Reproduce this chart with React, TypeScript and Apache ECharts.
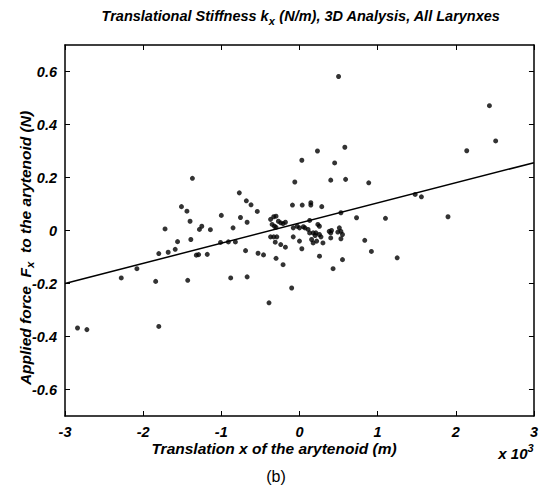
import React, { useEffect, useRef } from "react";
import * as echarts from "echarts";

const xData: number[] = [
  -2.84, -2.72, -2.28, -2.08, -1.84, -1.8, -1.8, -1.72, -1.68, -1.59,
  -1.56, -1.51, -1.44, -1.43, -1.37, -1.4, -1.39, -1.32, -1.29, -1.18,
  -1.28, -1.25, -1.14, -1.0, -1.01, -0.91, -0.82, -0.88, -0.85, -0.77,
  -0.68, -0.62, -0.54, -0.755, -0.67, -0.69, -0.67, -0.53, -0.46, -0.39,
  -0.3, -0.21, -0.1, -0.37, -0.33, -0.3, -0.27, -0.24, -0.21, -0.18,
  -0.35, -0.32, -0.3, -0.08, -0.03, 0.0, 0.05, 0.07, 0.11, 0.13,
  0.175, 0.2, -0.37, -0.33, -0.29, -0.31, -0.24, -0.18, -0.08, 0.0,
  0.03, 0.155, 0.175, 0.22, -0.09, 0.035, 0.145, 0.145, 0.285, 0.13,
  0.235, 0.255, 0.21, 0.255, 0.275, 0.3, 0.38, 0.41, 0.4, 0.51,
  0.53, 0.49, 0.55, 0.4, 0.53, 0.55, 0.43, 0.256, 0.835, 0.92,
  1.25, 0.73, 1.1, 1.9, 1.48, 1.56, 0.886, 0.4, 0.59, -0.06,
  0.03, 0.45, 0.23, 0.58, 0.5, 2.14, 2.43, 2.51, 0.53,
];

const yData: number[] = [
  -0.368, -0.374, -0.179, -0.144, -0.192, -0.362, -0.087, 0.006, -0.082, -0.071,
  -0.042, 0.09, 0.073, -0.188, 0.197, 0.035, -0.034, -0.093, -0.091, -0.09,
  0.004, 0.016, 0.003, 0.057, -0.045, -0.043, -0.043, -0.179, 0.01, 0.142,
  0.112, 0.097, 0.072, 0.049, 0.031, -0.076, -0.175, -0.086, -0.092, -0.273,
  -0.105, -0.129, -0.217, 0.042, 0.052, 0.054, 0.035, 0.029, 0.026, 0.031,
  0.023, 0.016, 0.012, 0.01, 0.016, 0.01, 0.014, 0.01, 0.004, -0.009,
  -0.009, -0.019, -0.024, -0.024, -0.024, -0.044, -0.053, -0.063, -0.024, -0.04,
  -0.069, -0.034, -0.047, -0.04, 0.096, 0.096, 0.105, 0.096, 0.09, 0.038,
  0.023, 0.016, -0.009, -0.015, -0.024, -0.047, -0.003, 0.0, -0.009, 0.01,
  -0.003, -0.006, -0.015, -0.028, -0.031, -0.11, -0.144, -0.097, -0.037, -0.079,
  -0.103, 0.048, 0.046, 0.052, 0.136, 0.127, 0.18, 0.19, 0.193, 0.183,
  0.265, 0.255, 0.3, 0.314, 0.581, 0.301, 0.471, 0.338, 0.067,
];

const fitX: number[] = [-3, 3];
const fitY: number[] = [-0.2, 0.256];

const xTickValues: number[] = [-3, -2, -1, 0, 1, 2, 3];
const yTickValues: number[] = [-0.6, -0.4, -0.2, 0, 0.2, 0.4, 0.6];

const titleText = "{a|Translational Stiffness k}{s|x}{a| (N/m), 3D Analysis, All Larynxes}";
const xLabelText = "Translation x of the arytenoid (m)";
const yLabelText = "{a|Applied force  F}{s|x}{a|  to the arytenoid (N)}";
const expText = "{a|x 10}{p|3}";
const panelText = "(b)";

const FONT = "'Liberation Sans', Arial, Helvetica, sans-serif";

export default function App() {
  const ref = useRef<HTMLDivElement>(null);
  useEffect(() => {
    if (!ref.current) return;
    const chart = echarts.init(ref.current, null, { renderer: "svg" });
    const points = xData.map((x, i) => [x, yData[i]]);
    const fit = fitX.map((x, i) => [x, fitY[i]]);
    const labelStyle = {
      color: "#000",
      fontFamily: FONT,
      fontWeight: "bold" as const,
      fontStyle: "italic" as const,
      fontSize: 14.5,
    };
    const lineStyle = { color: "#000", width: 1.5 };
    const tick = { show: true, inside: true, length: 5, lineStyle: { color: "#000" } };
    chart.setOption({
      animation: false,
      backgroundColor: "#fff",
      grid: { left: 65, top: 45, width: 473, height: 371, containLabel: false },
      xAxis: [
        {
          type: "value",
          position: "bottom",
          min: -3,
          max: 3,
          interval: 1,
          axisLine: { show: true, onZero: false, lineStyle },
          axisTick: tick,
          axisLabel: { ...labelStyle, margin: 8, customValues: xTickValues },
          splitLine: { show: false },
        },
        {
          type: "value",
          position: "top",
          min: -3,
          max: 3,
          interval: 1,
          axisLine: { show: true, onZero: false, lineStyle },
          axisTick: tick,
          axisLabel: { show: false },
          splitLine: { show: false },
        },
      ],
      yAxis: [
        {
          type: "value",
          position: "left",
          min: -0.7,
          max: 0.7,
          axisLine: { show: true, onZero: false, lineStyle },
          axisTick: { ...tick, customValues: yTickValues },
          axisLabel: { ...labelStyle, margin: 8, customValues: yTickValues },
          splitLine: { show: false },
        },
        {
          type: "value",
          position: "right",
          min: -0.7,
          max: 0.7,
          axisLine: { show: true, onZero: false, lineStyle },
          axisTick: { ...tick, customValues: yTickValues },
          axisLabel: { show: false },
          splitLine: { show: false },
        },
      ],
      series: [
        {
          type: "scatter",
          data: points,
          symbol: "circle",
          symbolSize: 5,
          itemStyle: { color: "#000" },
          xAxisIndex: 0,
          yAxisIndex: 0,
        },
        {
          type: "line",
          data: fit,
          showSymbol: false,
          symbol: "none",
          lineStyle: { color: "#000", width: 1.5 },
          xAxisIndex: 0,
          yAxisIndex: 0,
        },
      ],
      graphic: [
        {
          type: "text",
          x: 301,
          y: 16,
          style: {
            text: titleText,
            align: "center",
            verticalAlign: "middle",
            rich: {
              a: { ...labelStyle, fontSize: 14.5 },
              s: { ...labelStyle, fontSize: 11, padding: [9, 0, 0, 0] },
            },
          },
        },
        {
          type: "text",
          x: 274,
          y: 448,
          style: {
            text: xLabelText,
            align: "center",
            verticalAlign: "middle",
            ...labelStyle,
            fontSize: 15.5,
          },
        },
        {
          type: "text",
          x: 25,
          y: 248,
          rotation: Math.PI / 2,
          style: {
            text: yLabelText,
            align: "center",
            verticalAlign: "middle",
            rich: {
              a: { ...labelStyle, fontSize: 15.5 },
              s: { ...labelStyle, fontSize: 11.5, padding: [9, 0, 0, 0] },
            },
          },
        },
        {
          type: "text",
          x: 516,
          y: 453,
          style: {
            text: expText,
            align: "center",
            verticalAlign: "middle",
            rich: {
              a: { ...labelStyle, fontSize: 15 },
              p: { ...labelStyle, fontSize: 11, padding: [0, 0, 10, 0] },
            },
          },
        },
        {
          type: "text",
          x: 276,
          y: 476,
          style: {
            text: panelText,
            align: "center",
            verticalAlign: "middle",
            fill: "#000",
            fontFamily: FONT,
            fontSize: 16,
          },
        },
      ],
    });
    return () => chart.dispose();
  }, []);
  return <div ref={ref} style={{ width: 541, height: 488, position: "absolute", left: 0, top: 0 }} />;
}
